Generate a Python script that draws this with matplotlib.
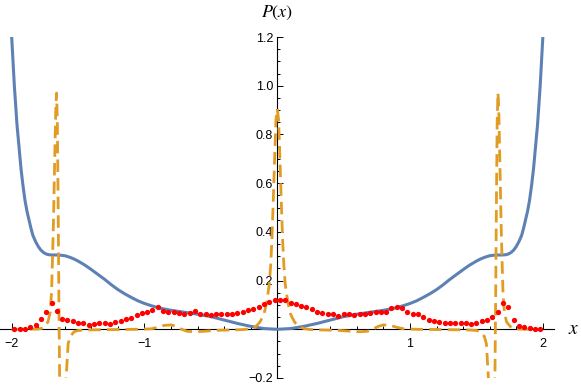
import numpy as np
import matplotlib.pyplot as plt
from matplotlib.ticker import FixedLocator, FixedFormatter, MultipleLocator

plt.rcParams['font.family'] = ['Liberation Sans', 'DejaVu Sans']
plt.rcParams['mathtext.fontset'] = 'stix'

# blue curve
blue_x = [-2.00, -1.99, -1.98, -1.97, -1.96, -1.945, -1.93, -1.915, -1.90, -1.885,
          -1.87, -1.855, -1.84, -1.82, -1.80, -1.78, -1.76, -1.74, -1.72, -1.69,
          -1.66, -1.63, -1.60, -1.575, -1.55, -1.525, -1.50, -1.45, -1.40, -1.35,
          -1.30, -1.25, -1.20, -1.15, -1.10, -1.05, -1.00, -0.95, -0.90, -0.85,
          -0.80, -0.70, -0.60, -0.50, -0.40, -0.30, -0.20, -0.10, 0.00,
          0.10, 0.20, 0.30, 0.40, 0.50, 0.60, 0.70, 0.80,
          0.85, 0.90, 0.95, 1.00, 1.05, 1.10, 1.15, 1.20, 1.25, 1.30,
          1.35, 1.40, 1.45, 1.50, 1.525, 1.55, 1.575, 1.60, 1.63, 1.66,
          1.69, 1.72, 1.74, 1.76, 1.78, 1.80, 1.82, 1.84, 1.855, 1.87,
          1.885, 1.90, 1.915, 1.93, 1.945, 1.96, 1.97, 1.98, 1.99, 2.00]
blue_y = [1.20, 1.10, 1.00, 0.92, 0.84, 0.75, 0.66, 0.59, 0.53, 0.485,
          0.45, 0.415, 0.385, 0.36, 0.34, 0.325, 0.315, 0.309, 0.306, 0.305,
          0.305, 0.304, 0.302, 0.298, 0.293, 0.287, 0.280, 0.264, 0.245, 0.225,
          0.205, 0.183, 0.163, 0.146, 0.131, 0.117, 0.106, 0.097, 0.089, 0.083,
          0.078, 0.070, 0.062, 0.052, 0.038, 0.024, 0.012, 0.003, 0.000,
          0.003, 0.012, 0.024, 0.038, 0.052, 0.062, 0.070, 0.078,
          0.083, 0.089, 0.097, 0.106, 0.117, 0.131, 0.146, 0.163, 0.183, 0.205,
          0.225, 0.245, 0.264, 0.280, 0.287, 0.293, 0.298, 0.302, 0.304, 0.305,
          0.305, 0.306, 0.309, 0.315, 0.325, 0.34, 0.36, 0.385, 0.415, 0.45,
          0.485, 0.53, 0.59, 0.66, 0.75, 0.84, 0.92, 1.00, 1.10, 1.20]

# orange dashed curve
orange_x = [-2.00, -1.90, -1.80, -1.765, -1.727, -1.71, -1.70, -1.692, -1.685, -1.676,
            -1.668, -1.662, -1.656, -1.650, -1.645, -1.639, -1.63, -1.615, -1.60, -1.59,
            -1.575, -1.56, -1.53, -1.50, -1.45, -1.35, -1.20, -1.05, -0.95, -0.90,
            -0.85, -0.80, -0.76, -0.72, -0.68, -0.62, -0.55, -0.45, -0.35, -0.25,
            -0.20, -0.16, -0.13, -0.10, -0.08, -0.06, -0.05, -0.04, -0.03, -0.02,
            -0.01, 0.00, 0.01, 0.02, 0.03, 0.04, 0.05, 0.06, 0.08, 0.10,
            0.13, 0.16, 0.20, 0.25, 0.35, 0.45, 0.55, 0.62, 0.68, 0.72,
            0.76, 0.80, 0.85, 0.90, 0.95, 1.05, 1.20, 1.35, 1.45, 1.50,
            1.53, 1.56, 1.575, 1.59, 1.60, 1.615, 1.63, 1.639, 1.645, 1.650,
            1.656, 1.662, 1.668, 1.676, 1.685, 1.692, 1.70, 1.71, 1.727, 1.765,
            1.80, 1.90, 2.00]
orange_y = [0.000, 0.000, 0.001, 0.005, 0.030, 0.070, 0.150, 0.300, 0.450, 0.700,
            0.900, 0.970, 0.850, 0.500, 0.150, -0.200, -0.700, -1.000, -0.450, -0.200,
            -0.060, -0.030, -0.010, -0.005, -0.003, -0.002, -0.001, 0.000, 0.002, 0.008,
            0.016, 0.018, 0.012, 0.000, -0.008, -0.010, -0.008, -0.004, -0.003, -0.001,
            0.003, 0.012, 0.030, 0.062, 0.110, 0.185, 0.260, 0.370, 0.530, 0.700,
            0.860, 0.905, 0.860, 0.700, 0.530, 0.370, 0.260, 0.185, 0.110, 0.062,
            0.030, 0.012, 0.003, -0.001, -0.003, -0.004, -0.008, -0.010, -0.008, 0.000,
            0.012, 0.018, 0.016, 0.008, 0.002, 0.000, -0.001, -0.002, -0.003, -0.005,
            -0.010, -0.030, -0.060, -0.200, -0.450, -1.000, -0.700, -0.200, 0.150, 0.500,
            0.850, 0.970, 0.900, 0.700, 0.450, 0.300, 0.150, 0.070, 0.030, 0.005,
            0.001, 0.000, 0.000]

# red dots, sampled every 0.04 from -1.98 to 1.98
red_x = np.linspace(-1.98, 1.98, 100)
red_y = [0.001, 0.002, 0.003, 0.008, 0.018, 0.041, 0.072, 0.109, 0.074, 0.042,
         0.038, 0.035, 0.027, 0.025, 0.019, 0.020, 0.027, 0.025, 0.022, 0.030,
         0.034, 0.041, 0.048, 0.057, 0.067, 0.072, 0.079, 0.090, 0.077, 0.073,
         0.072, 0.066, 0.064, 0.065, 0.075, 0.061, 0.061, 0.060, 0.061, 0.061,
         0.063, 0.064, 0.067, 0.071, 0.079, 0.085, 0.093, 0.103, 0.113, 0.119,
         0.120, 0.120, 0.109, 0.104, 0.094, 0.090, 0.085, 0.070, 0.067, 0.063,
         0.063, 0.055, 0.061, 0.062, 0.060, 0.062, 0.063, 0.066, 0.069, 0.071,
         0.072, 0.088, 0.091, 0.087, 0.072, 0.064, 0.063, 0.049, 0.040, 0.036,
         0.030, 0.025, 0.025, 0.027, 0.025, 0.025, 0.023, 0.027, 0.033, 0.037,
         0.052, 0.073, 0.109, 0.090, 0.037, 0.015, 0.008, 0.004, 0.003, 0.002]

x_ticks = [-2, -1, 1, 2]
x_labels = ['\u22122', '\u22121', '1', '2']
y_ticks = [-0.2, 0.2, 0.4, 0.6, 0.8, 1.0, 1.2]
y_labels = ['\u22120.2', '0.2', '0.4', '0.6', '0.8', '1.0', '1.2']

fig = plt.figure(figsize=(5.81, 3.89), dpi=100)
ax = fig.add_axes([0, 11 / 389, 554 / 581, 341 / 389])
ax.set_xlim(-2.088, 2.084)
ax.set_ylim(-0.2, 1.2)

ax.plot(blue_x, blue_y, color='#5E81B5', lw=2.2, zorder=3, solid_joinstyle='round')
ax.plot(orange_x, orange_y, color='#E19C24', lw=2.0, dashes=(4.5, 2.2), zorder=4)
ax.plot(red_x, red_y, 'o', color='#FF0000', ms=3.8, mec='none', zorder=5)

for s in ['top', 'right']:
    ax.spines[s].set_visible(False)
ax.spines['left'].set_position(('data', 0))
ax.spines['bottom'].set_position(('data', 0))
for s in ['left', 'bottom']:
    ax.spines[s].set_linewidth(0.8)

ax.xaxis.set_major_locator(FixedLocator(x_ticks))
ax.xaxis.set_major_formatter(FixedFormatter(x_labels))
ax.xaxis.set_minor_locator(MultipleLocator(0.2))
ax.yaxis.set_major_locator(FixedLocator(y_ticks))
ax.yaxis.set_major_formatter(FixedFormatter(y_labels))
ax.yaxis.set_minor_locator(MultipleLocator(0.05))

ax.tick_params(which='both', direction='in', width=0.7, labelsize=9)
ax.tick_params(which='major', length=4.0)
ax.tick_params(which='minor', length=2.4)
ax.tick_params(axis='x', which='major', pad=6)
ax.tick_params(axis='y', which='major', pad=3)

ax.text(2.234, 0, '$x$', fontsize=14, ha='center', va='center')
ax.text(0, 1.298, '$P(x)$', fontsize=13, ha='center', va='center', clip_on=False)

fig.savefig('out.png', dpi=100)
